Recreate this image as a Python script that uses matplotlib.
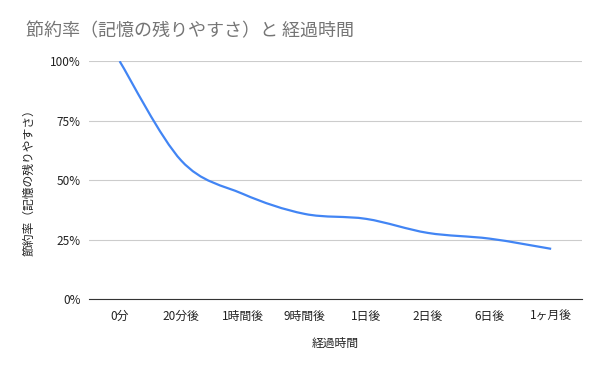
import numpy as np
import matplotlib.pyplot as plt
from matplotlib.path import Path
from matplotlib.patches import PathPatch

plt.rcParams['font.family'] = ['Noto Sans CJK JP', 'DejaVu Sans']

categories = ['0分', '20分後', '1時間後', '9時間後', '1日後', '2日後', '6日後', '1ヶ月後']
savings = [100, 58.2, 44.2, 35.8, 33.7, 27.8, 25.4, 21.1]
yticks = [0, 25, 50, 75, 100]
ytick_labels = ['0%', '25%', '50%', '75%', '100%']

fig = plt.figure(figsize=(6, 3.71), dpi=100)
ax = fig.add_axes([0.148, 0.194, 0.822, 0.641])

# smooth line through the points (Catmull-Rom as cubic Bezier)
x = np.arange(len(categories), dtype=float)
y = np.array(savings, dtype=float)
verts = [(x[0], y[0])]
codes = [Path.MOVETO]
t = 0.5 / 3
for i in range(len(x) - 1):
    p0 = (x[i - 1], y[i - 1]) if i > 0 else (x[i], y[i])
    p3 = (x[i + 2], y[i + 2]) if i + 2 < len(x) else (x[i + 1], y[i + 1])
    c1 = (x[i] + (x[i + 1] - p0[0]) * t, y[i] + (y[i + 1] - p0[1]) * t)
    c2 = (x[i + 1] - (p3[0] - x[i]) * t, y[i + 1] - (p3[1] - y[i]) * t)
    verts += [c1, c2, (x[i + 1], y[i + 1])]
    codes += [Path.CURVE4] * 3
ax.add_patch(PathPatch(Path(verts, codes), facecolor='none', edgecolor='#4285f4', lw=1.6, zorder=3))

ax.set_xlim(-0.5, len(categories) - 0.5)
ax.set_ylim(0, 100)
ax.set_xticks(x)
ax.set_xticklabels(categories)
ax.set_yticks(yticks)
ax.set_yticklabels(ytick_labels)
ax.tick_params(length=0, labelsize=8.5, colors='#222222')
ax.tick_params(axis='x', pad=8)
ax.tick_params(axis='y', pad=6)
ax.grid(axis='y', color='#cccccc', lw=0.8)
ax.set_axisbelow(True)
for s in ['top', 'right', 'left']:
    ax.spines[s].set_visible(False)
ax.spines['bottom'].set_color('#333333')
ax.spines['bottom'].set_zorder(4)

ax.set_xlabel('経過時間', fontsize=8.5, color='#222222', labelpad=10)
ax.set_ylabel('節約率（記憶の残りやすさ）', fontsize=8.5, color='#222222', labelpad=10)
fig.text(0.043, 0.915, '節約率（記憶の残りやすさ）と 経過時間', fontsize=13, color='#757575', va='center')

fig.savefig('out.png', dpi=100)
